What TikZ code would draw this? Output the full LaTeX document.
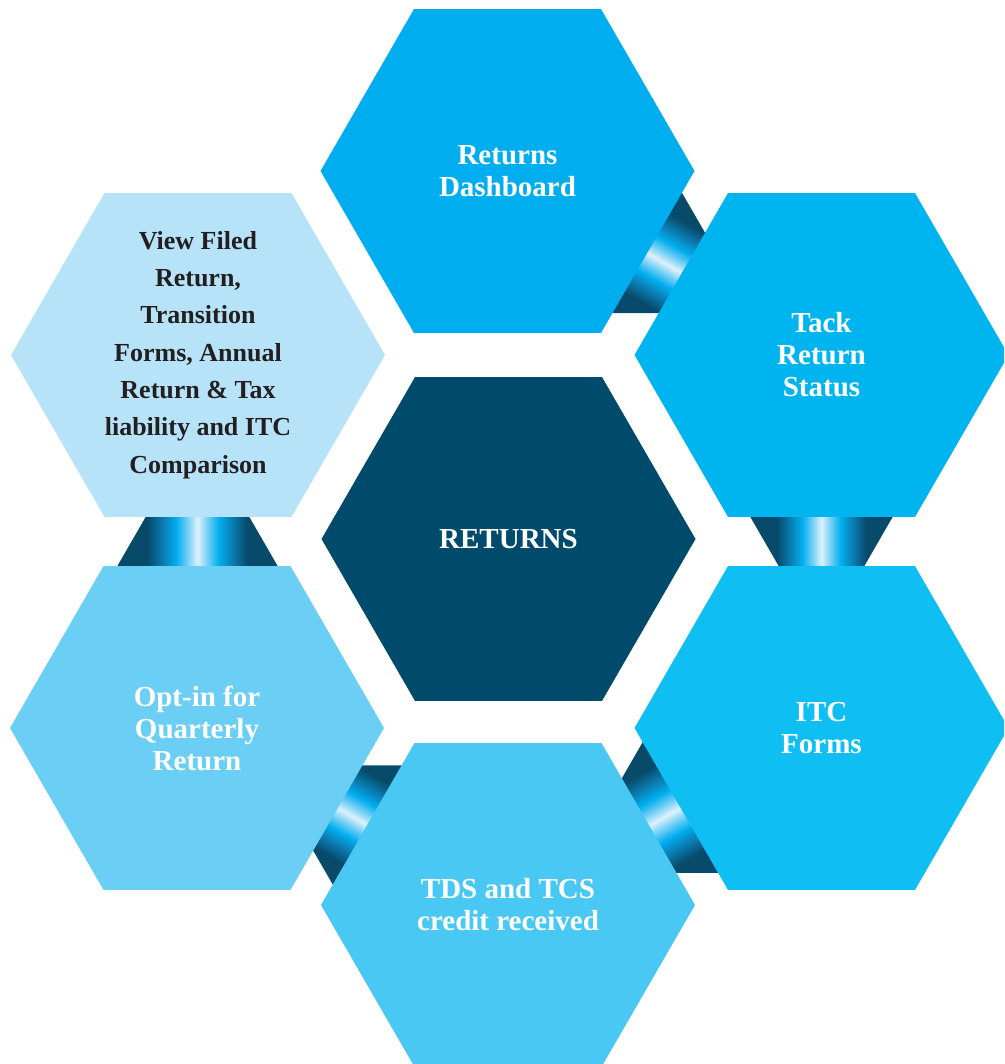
\documentclass[tikz,border=0pt]{standalone}
\usepackage{fontspec}
\setmainfont{Liberation Serif}
\usetikzlibrary{shapes.geometric,calc}
\definecolor{hexTop}{HTML}{00AEEF}
\definecolor{hexTR}{HTML}{00B4F0}
\definecolor{hexBR}{HTML}{0FBEF2}
\definecolor{hexBot}{HTML}{4AC8F4}
\definecolor{hexBL}{HTML}{6BCEF5}
\definecolor{hexTL}{HTML}{B7E3F9}
\definecolor{hexCen}{HTML}{004B6B}
\definecolor{txtDark}{HTML}{231F20}
\definecolor{bandDark}{HTML}{074A6A}
\definecolor{bandMid}{HTML}{0A86BE}
\definecolor{bandCyan}{HTML}{00AEEF}
\definecolor{bandLightA}{HTML}{7FD3F6}
\definecolor{bandLight}{HTML}{DDF1FB}
\pgfdeclareverticalshading{bandshade}{100bp}{color(0bp)=(bandDark); color(36bp)=(bandDark); color(41bp)=(bandMid); color(44bp)=(bandCyan); color(47.5bp)=(bandLightA); color(50bp)=(bandLight); color(52.5bp)=(bandLightA); color(56bp)=(bandCyan); color(59bp)=(bandMid); color(64bp)=(bandDark); color(100bp)=(bandDark)}
\newcommand\hexband[4]{%
  \begin{scope}[transform canvas={shift={($(#1)!0.5!(#2)$)}, rotate=#3}]
    \shade[shading=bandshade] (-40,{-(#4+23.094)}) -- (-40,{#4+23.094}) -- (40,{#4-23.094}) -- (40,{-(#4-23.094)}) -- cycle;
  \end{scope}}
\begin{document}
\begin{tikzpicture}[x=0.75pt,y=-0.75pt,
  hexagon/.style={regular polygon, regular polygon sides=6, minimum size=280.5pt, inner sep=0pt, outer sep=0pt, draw=none},
  lbl/.style={font=\bfseries\fontsize{21.75}{24}\selectfont, text=white, align=center, inner sep=0pt},
  lblsmall/.style={font=\bfseries\fontsize{19.5}{28}\selectfont, text=txtDark, align=center, inner sep=0pt}]
\clip (0,0) rectangle (1004,1064);
\coordinate (cTop) at (507.5,171);
\coordinate (cTR) at (821.5,355);
\coordinate (cBR) at (821.5,728);
\coordinate (cBot) at (508,905);
\coordinate (cBL) at (197,728);
\coordinate (cTL) at (198,355);
\coordinate (cCen) at (508.5,539);
% connecting bands
\hexband{cTop}{cTR}{-30}{58}
\hexband{cTR}{cBR}{-90}{57}
\hexband{cBR}{cBot}{-150}{65}
\hexband{cBot}{cBL}{150}{59}
\hexband{cBL}{cTL}{90}{66}
% hexagons
\node[hexagon, fill=hexTop] (hTop) at (cTop) {};
\node[hexagon, fill=hexTR] (hTR) at (cTR) {};
\node[hexagon, fill=hexBR] (hBR) at (cBR) {};
\node[hexagon, fill=hexBot] (hBot) at (cBot) {};
\node[hexagon, fill=hexBL] (hBL) at (cBL) {};
\node[hexagon, fill=hexTL] (hTL) at (cTL) {};
\node[hexagon, fill=hexCen] (hCen) at (cCen) {};
% labels
\node[lbl] (tTop) at (hTop.center) {Returns\\Dashboard};
\node[lbl] (tTR) at (hTR.center) {Tack\\Return\\Status};
\node[lbl] (tBR) at (hBR.center) {ITC\\Forms};
\node[lbl] (tBot) at (hBot.center) {TDS and TCS\\credit received};
\node[lbl] (tBL) at (hBL.center) {Opt-in for\\Quarterly\\Return};
\node[lblsmall] (tTL) at (hTL.center) {View Filed\\Return,\\Transition\\Forms, Annual\\Return \& Tax\\liability and ITC\\Comparison};
\node[lbl] (tCen) at (hCen.center) {RETURNS};
\end{tikzpicture}
\end{document}
